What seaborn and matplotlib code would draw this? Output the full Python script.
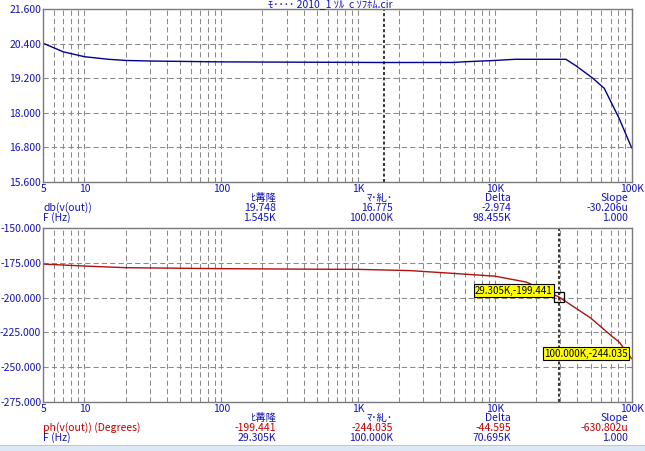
import numpy as np
import pandas as pd
import matplotlib
matplotlib.use('Agg')
import matplotlib.pyplot as plt
import seaborn as sns
from matplotlib.patches import Rectangle

# Données (analyse AC)
freq_db = [5, 7, 10, 15, 20, 30, 100, 1545, 5000, 5800, 10000, 14000, 33000, 39000, 52000, 63000, 81000, 100000]
db_out = [20.417, 20.12, 19.95, 19.86, 19.82, 19.80, 19.77, 19.748, 19.75, 19.77, 19.82, 19.86, 19.86, 19.64, 19.20, 18.85, 17.80, 16.775]

freq_ph = [5, 10, 20, 100, 525, 1000, 2400, 5500, 10000, 17000, 29305, 50000, 72000, 81000, 100000]
ph_out = [-175.8, -177.2, -178.4, -179.1, -179.5, -179.6, -180.5, -182.8, -184.5, -188.8, -199.441, -214.6, -228.0, -232.0, -244.035]

db_ticks = [15.6, 16.8, 18.0, 19.2, 20.4, 21.6]
ph_ticks = [-275, -250, -225, -200, -175, -150]
x_labels = {5: '5', 10: '10', 100: '100', 1000: '1K', 10000: '10K', 100000: '100K'}

title = 'ﾓ････ 2010_1 ｿﾙ  c ｿﾌﾎﾑ.cir'
headers = ['ﾋ冓隆', 'ﾏ･糺･', 'Delta', 'Slope']
db_row = ['19.748', '16.775', '-2.974', '-30.206u']
f_row_top = ['1.545K', '100.000K', '98.455K', '1.000']
ph_row = ['-199.441', '-244.035', '-44.595', '-630.802u']
f_row_bot = ['29.305K', '100.000K', '70.695K', '1.000']

cursor_top = 1545
cursor_bot = (29305, -199.441)
cursor_bot2 = (100000, -244.035)

sns.set_style('white')
plt.rcParams['font.family'] = ['Noto Sans CJK JP', 'DejaVu Sans']

BLUE = '#1414b4'
RED = '#c00000'
FS = 7.5
W, H = 645, 451

fig = plt.figure(figsize=(W / 100, H / 100), dpi=100)
fig.patch.set_facecolor('white')

def px(x, y):
    return x / W, 1 - y / H

ax1 = fig.add_axes([43.3 / W, 1 - 181.7 / H, 588.4 / W, 172.4 / H])
ax2 = fig.add_axes([43.3 / W, 1 - 401.7 / H, 588.4 / W, 173.4 / H])

grid_x = [m * 10 ** d for d in range(0, 5) for m in range(1, 10) if 5 < m * 10 ** d < 100000]

df_db = pd.DataFrame({'f': freq_db, 'v': db_out})
df_ph = pd.DataFrame({'f': freq_ph, 'v': ph_out})

sns.lineplot(data=df_db, x='f', y='v', ax=ax1, color='#000090', linewidth=1.0)
sns.lineplot(data=df_ph, x='f', y='v', ax=ax2, color='#b01010', linewidth=1.0)

for ax, yt in ((ax1, db_ticks), (ax2, ph_ticks)):
    ax.set_xscale('log')
    ax.set_xlim(5, 100000)
    ax.set_ylim(yt[0], yt[-1])
    ax.set_xticks(grid_x, minor=False)
    ax.set_xticks([], minor=True)
    ax.set_yticks(yt)
    ax.set_yticklabels([f'{v:.3f}' for v in yt])
    ax.grid(True, color='#8a8a8a', linestyle=(0, (5, 3)), linewidth=0.75)
    ax.set_xlabel('')
    ax.set_ylabel('')
    ax.tick_params(length=0, labelsize=FS, colors=BLUE, pad=1.5)
    for s in ax.spines.values():
        s.set_color('#7a7a7a')
        s.set_linewidth(1.0)
    # étiquettes de l'axe x
    ax.set_xticklabels([])
    for f, lab in x_labels.items():
        ax.text(f, -0.015, lab, transform=ax.get_xaxis_transform(), ha='center', va='top',
                fontsize=FS, color=BLUE)
    ax.set_facecolor('white')

# curseurs
ax1.axvline(cursor_top, color='black', linestyle=(0, (2, 1.5)), linewidth=1.1)
ax2.axvline(cursor_bot[0], color='black', linestyle=(0, (2, 1.5)), linewidth=1.1)
ax2.plot([cursor_bot[0]], [cursor_bot[1]], marker='s', markersize=7, markerfacecolor='none',
         markeredgecolor='black', markeredgewidth=0.9, clip_on=False)

box = dict(boxstyle='square,pad=0.15', facecolor='#ffff00', edgecolor='black', linewidth=0.8)
ax2.annotate(f'{cursor_bot[0] / 1000:.3f}K,{cursor_bot[1]:.3f}', xy=cursor_bot,
             xytext=(-6, 6), textcoords='offset pixels', ha='right', va='center',
             fontsize=7, color='black', bbox=box, annotation_clip=False)
ax2.annotate(f'{cursor_bot2[0] / 1000:.3f}K,{cursor_bot2[1]:.3f}', xy=cursor_bot2,
             xytext=(-4, 5), textcoords='offset pixels', ha='right', va='center',
             fontsize=7, color='black', bbox=box, annotation_clip=False)

# titre
fig.text(*px(330, 4), title, ha='center', va='center', fontsize=FS, color=BLUE)

# tableaux des curseurs
col_right = [276, 393, 511, 628]

def cursor_table(y0, name, name_color, vals, fvals):
    for x, h in zip(col_right, headers):
        fig.text(*px(x, y0), h, ha='right', va='center', fontsize=FS, color=BLUE)
    fig.text(*px(43, y0 + 10), name, ha='left', va='center', fontsize=FS, color=name_color)
    fig.text(*px(43, y0 + 20), 'F (Hz)', ha='left', va='center', fontsize=FS, color=BLUE)
    for x, v in zip(col_right, vals):
        fig.text(*px(x, y0 + 10), v, ha='right', va='center', fontsize=FS, color=name_color)
    for x, v in zip(col_right, fvals):
        fig.text(*px(x, y0 + 20), v, ha='right', va='center', fontsize=FS, color=BLUE)

cursor_table(198, 'db(v(out))', BLUE, db_row, f_row_top)
cursor_table(418, 'ph(v(out)) (Degrees)', RED, ph_row, f_row_bot)

# bande bleue en bas
fig.patches.append(Rectangle((0, 0), 1, 5 / H, transform=fig.transFigure,
                             facecolor='#dde8f6', edgecolor='none'))
fig.patches.append(Rectangle((0, 5 / H), 1, 1 / H, transform=fig.transFigure,
                             facecolor='#b4c8e2', edgecolor='none'))

fig.savefig('out.png', dpi=100)
